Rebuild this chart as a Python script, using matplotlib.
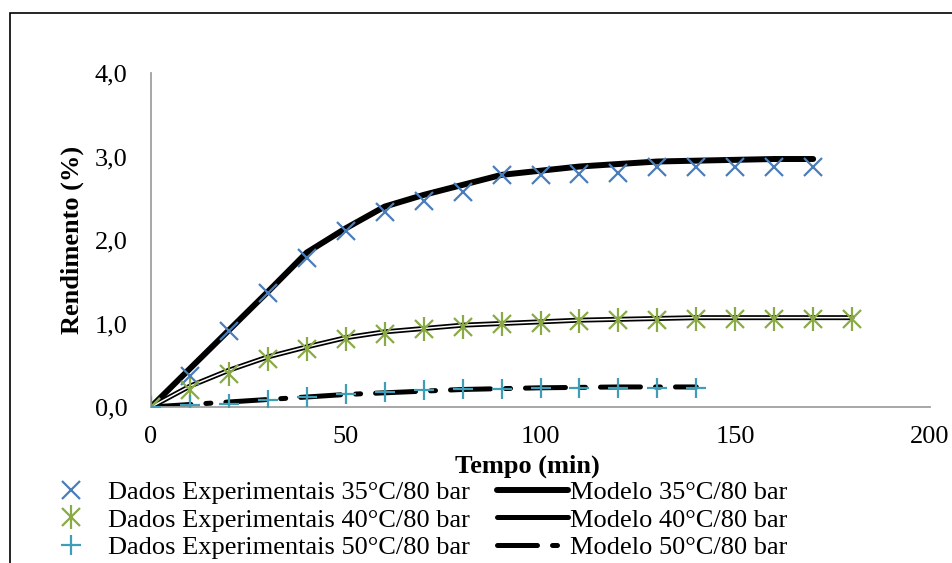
import matplotlib.pyplot as plt
from matplotlib.lines import Line2D
from matplotlib.patches import Rectangle
from matplotlib.legend_handler import HandlerTuple

# dados
t35 = [0, 10, 20, 30, 40, 50, 60, 70, 80, 90, 100, 110, 120, 130, 140, 150, 160, 170]
exp35 = [0.0, 0.37, 0.91, 1.37, 1.78, 2.11, 2.33, 2.47, 2.58, 2.78, 2.78, 2.79, 2.80, 2.87, 2.87, 2.87, 2.87, 2.87]
mod35 = [0.0, 0.46, 0.92, 1.38, 1.85, 2.14, 2.40, 2.54, 2.66, 2.78, 2.83, 2.88, 2.91, 2.94, 2.95, 2.96, 2.97, 2.97]

t40 = [0, 10, 20, 30, 40, 50, 60, 70, 80, 90, 100, 110, 120, 130, 140, 150, 160, 170, 180]
exp40 = [0.0, 0.20, 0.40, 0.58, 0.70, 0.81, 0.88, 0.93, 0.96, 0.99, 1.01, 1.03, 1.04, 1.04, 1.05, 1.05, 1.05, 1.05, 1.05]
mod40 = [0.0, 0.25, 0.44, 0.60, 0.72, 0.83, 0.90, 0.94, 0.98, 1.00, 1.02, 1.04, 1.05, 1.06, 1.07, 1.07, 1.07, 1.07, 1.07]

t50 = [0, 10, 20, 30, 40, 50, 60, 70, 80, 90, 100, 110, 120, 130, 140]
exp50 = [0.0, 0.02, 0.04, 0.08, 0.12, 0.16, 0.18, 0.20, 0.22, 0.22, 0.23, 0.23, 0.23, 0.23, 0.23]
mod50 = [0.0, 0.03, 0.06, 0.09, 0.12, 0.15, 0.17, 0.19, 0.21, 0.22, 0.23, 0.235, 0.24, 0.24, 0.24]

labels_exp = ["Dados Experimentais 35°C/80 bar", "Dados Experimentais 40°C/80 bar",
              "Dados Experimentais 50°C/80 bar"]
labels_mod = ["Modelo 35°C/80 bar", "Modelo 40°C/80 bar", "Modelo 50°C/80 bar"]

c_blue = "#4A7EBB"
c_green = "#8AAA45"
c_teal = "#3F9DB8"

plt.rcParams['font.family'] = ['Liberation Serif', 'DejaVu Serif']
fs = 19

fig = plt.figure(figsize=(9.52, 5.63), dpi=100)
W, H = 952, 563
ax = fig.add_axes([151 / W, 1 - 407 / H, (930 - 151) / W, (407 - 73) / H])

dash = (0, (8, 3, 1, 3))

# modelos
ax.plot(t35, mod35, color='black', lw=4.3, solid_capstyle='round', zorder=2)
ax.plot(t40, mod40, color='black', lw=3.6, solid_capstyle='round', zorder=2)
ax.plot(t40, mod40, color='white', lw=1.1, zorder=2.1)
ax.plot(t50, mod50, color='black', lw=3.6, linestyle=dash, dash_capstyle='round', zorder=2)

# pontos experimentais
ms = 13
ax.plot(t35, exp35, ls='none', marker='x', ms=ms, mew=1.6, color=c_blue, zorder=3)
ax.plot(t40, exp40, ls='none', marker='x', ms=ms, mew=1.6, color=c_green, zorder=3)
ax.plot(t40, exp40, ls='none', marker='|', ms=ms * 1.3, mew=1.6, color=c_green, zorder=3)
ax.plot(t50, exp50, ls='none', marker='+', ms=ms * 1.15, mew=1.6, color=c_teal, zorder=3)

ax.set_xlim(0, 200)
ax.set_ylim(0, 4)
ax.set_xticks([0, 50, 100, 150, 200])
ax.set_yticks([0, 1, 2, 3, 4])
ax.set_yticklabels(["0,0", "1,0", "2,0", "3,0", "4,0"])
ax.tick_params(length=0, labelsize=fs)
ax.tick_params(axis='y', pad=17)
ax.tick_params(axis='x', pad=14)

for s in ['top', 'right']:
    ax.spines[s].set_visible(False)
for s in ['left', 'bottom']:
    ax.spines[s].set_color('#A0A0A0')
    ax.spines[s].set_linewidth(1.3)

ax.set_xlabel("Tempo (min)", fontsize=fs, fontweight='bold')
ax.set_ylabel("Rendimento (%)", fontsize=fs, fontweight='bold')
ax.xaxis.set_label_coords((527 - 151) / 779, (407 - 466) / 334)
ax.xaxis.label.set_va('center')
ax.yaxis.set_label_coords((72 - 151) / 779, 0.5)
ax.yaxis.label.set_va('center')

# legenda
h_exp = [
    Line2D([], [], ls='none', marker='x', ms=ms, mew=1.6, color=c_blue),
    (Line2D([], [], ls='none', marker='x', ms=ms, mew=1.6, color=c_green),
     Line2D([], [], ls='none', marker='|', ms=ms * 1.3, mew=1.6, color=c_green)),
    Line2D([], [], ls='none', marker='+', ms=ms * 1.15, mew=1.6, color=c_teal),
]
h_mod = [
    Line2D([], [], color='black', lw=4.3, solid_capstyle='round'),
    Line2D([], [], color='black', lw=3.6, solid_capstyle='round'),
    Line2D([], [], color='black', lw=3.6, linestyle=dash, dash_capstyle='round'),
]
fig.legend(h_exp + h_mod, labels_exp + labels_mod, ncol=2, frameon=False,
           fontsize=fs, loc='upper left', bbox_to_anchor=(35 / W, 1 - 481 / H),
           handlelength=2.7, handletextpad=0.05, columnspacing=1.05,
           labelspacing=0.14, borderpad=0, borderaxespad=0,
           handler_map={tuple: HandlerTuple(ndivide=1)})

# moldura do grafico (cortada na direita e embaixo)
fig.patches.append(Rectangle((10 / W, -0.2), 2, 1.2 - 13 / H, transform=fig.transFigure,
                             fill=False, edgecolor='black', lw=1.2, clip_on=False))

fig.savefig("out.png", dpi=100)
